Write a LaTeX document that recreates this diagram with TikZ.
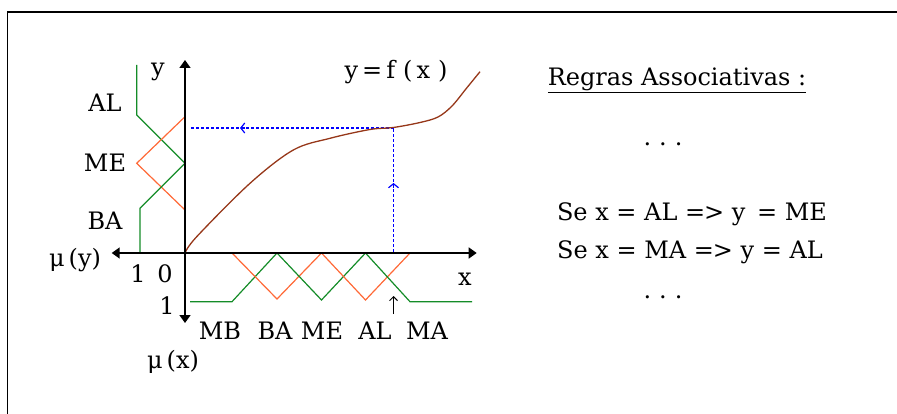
\documentclass[tikz,border=0pt]{standalone}
\usepackage{fontspec}
\setmainfont{DejaVu Serif}
\usetikzlibrary{arrows.meta}
\definecolor{mfgreen}{RGB}{20,140,40}
\definecolor{mforange}{RGB}{255,105,55}
\definecolor{curvebrown}{RGB}{150,55,25}
\definecolor{guideblue}{RGB}{0,0,255}
\tikzset{
  lbl/.style={inner sep=0pt, font=\fontsize{24}{28}\selectfont},
  axis/.style={line width=1.6pt, {Triangle[length=8pt,width=11pt]}-{Triangle[length=8pt,width=11pt]}},
  mfg/.style={mfgreen, line width=1.2pt},
  mfo/.style={mforange, line width=1.2pt},
  guide/.style={guideblue, line width=1.5pt, dash pattern=on 3pt off 2pt},
  chev/.style={guideblue, line width=1.2pt, -{Straight Barb[length=4pt,width=10pt]}},
  frameline/.style={line width=1.5pt, line cap=rect}
}
\begin{document}
\begin{tikzpicture}[x=1pt,y=-1pt]
\useasboundingbox (0,0) rectangle (897,414);
% frame
\draw[frameline] (7.3,414) -- (7.3,12) -- (897,12);
% key points
\coordinate (O) at (185,253);
\coordinate (ytop) at (185,60);
\coordinate (ybot) at (185,323);
\coordinate (xl) at (111.7,253);
\coordinate (xr) at (476.7,253);
% membership functions of y
\draw[mfg] (136.7,65) -- (136.7,115) -- (185,163.3);
\draw[mfo] (185,116.7) -- (136.7,163.3) -- (185,210);
\draw[mfg] (185,163.3) -- (140,208.3) -- (140,253);
% membership functions of x
\draw[mfg] (190,301.7) -- (232,301.7) -- (277,253);
\draw[mfo] (232,253) -- (277,299) -- (321.5,253);
\draw[mfg] (277,253) -- (321.5,300) -- (365.5,253);
\draw[mfo] (321.5,253) -- (365.5,300) -- (410,253);
\draw[mfg] (365.5,253) -- (410,301.7) -- (472,301.7);
% blue guides
\coordinate (P) at (393.5,128);
\coordinate (Px) at (393.5,252);
\coordinate (Py) at (190,128);
\draw[guide] (Px) -- (P);
\draw[guide] (P) -- (Py);
\draw[chev] (393.5,188) -- (393.5,183);
\draw[chev] (245,128) -- (240,128);
% curve
\draw[curvebrown, line width=1.3pt] plot[smooth, tension=0.55] coordinates {
 (185,253) (196.7,236.7) (250,183.3) (293.3,150) (330,138.3) (370,129.5)
 (393.3,127.5) (420,122.5) (438,117) (452,106) (466.7,88) (480,71.7)};
% axes
\draw[axis] (ybot) -- (ytop);
\draw[axis] (xl) -- (xr);
% small marker arrow
\coordinate (mk1) at (393.5,314);
\coordinate (mk2) at (393.5,296);
\draw[line width=1pt, -{Straight Barb[length=4pt,width=8pt]}] (mk1) -- (mk2);
% labels
\node[lbl] (ylab) at (158,72) {y};
\node[lbl] (yAL) at (105,103) {AL};
\node[lbl] (yME) at (105,163) {ME};
\node[lbl] (yBA) at (105,221) {BA};
\node[lbl] (muy) at (75,260) {μ\,(y)};
\node[lbl] (one1) at (138,274) {1};
\node[lbl] (zero) at (165,274) {0};
\node[lbl] (xlab) at (465,279) {x};
\node[lbl] (one2) at (167,306) {1};
\node[lbl] (xMB) at (220,331) {MB};
\node[lbl] (xBA) at (275,331) {BA};
\node[lbl] (xME) at (322,331) {ME};
\node[lbl] (xAL) at (375,331) {AL};
\node[lbl] (xMA) at (427,331) {MA};
\node[lbl] (mux) at (173,362) {μ\,(x)};
\node[lbl] (fx) at (396,72) {y\,=\,f\,\,(\,x\,\,)};
% rules
\node[lbl] (title) at (677,80) {\underline{Regras Associativas :}};
\node[lbl] (dots1) at (663,144) {.\,\,.\,\,.};
\node[lbl] (r1) at (692,214) {Se x = AL =\kern-1pt> y\, = ME};
\node[lbl] (r2) at (690,252) {Se x = MA =\kern-1pt> y = AL};
\node[lbl] (dots2) at (663,297) {.\,\,.\,\,.};
\end{tikzpicture}
\end{document}
